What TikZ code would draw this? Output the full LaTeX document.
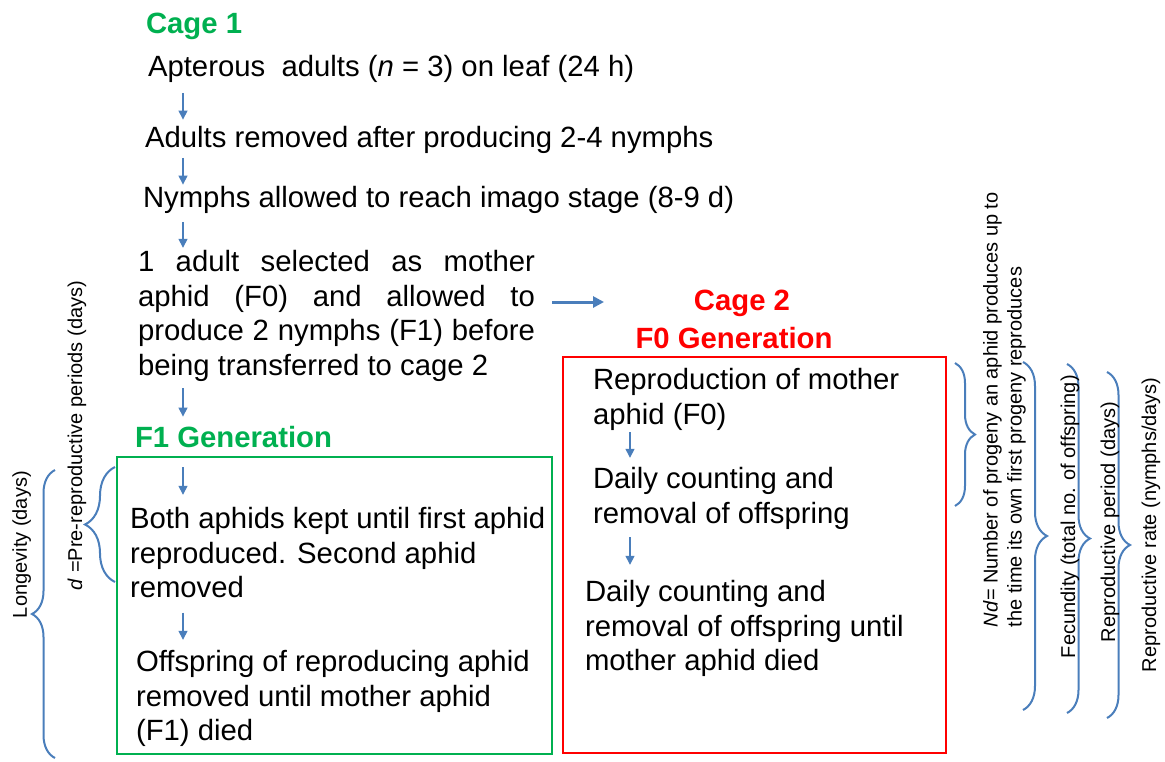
\documentclass[tikz,border=0pt]{standalone}
\usepackage{fontspec}
\setmainfont{Liberation Sans}
\usetikzlibrary{arrows.meta,decorations.pathreplacing}

\definecolor{cagegreen}{HTML}{00B050}
\definecolor{cagered}{HTML}{FF0000}
\definecolor{arrblue}{HTML}{4A7EBB}

\newcommand{\mainsize}{\fontsize{29.3}{34.8}\selectfont}
\newcommand{\sidesize}{\fontsize{20}{24}\selectfont}

\tikzset{
  maintxt/.style={font=\mainsize, inner sep=0pt, outer sep=0pt},
  headtxt/.style={maintxt, font=\mainsize\bfseries},
  sidetxt/.style={font=\sidesize, inner sep=0pt, outer sep=0pt, rotate=90},
  cagebox/.style={draw=#1, line width=2.5pt, inner sep=0pt, outer sep=0pt, anchor=north west},
  flowarr/.style={draw=arrblue, line width=1.4pt, -{Triangle[length=9pt,width=9pt]}},
  bigarr/.style={draw=arrblue, line width=3pt, -{Triangle[length=11pt,width=11pt]}},
  brc/.style={draw=arrblue, line width=2pt, decorate, decoration={brace, amplitude=#1}},
}

\begin{document}
\begin{tikzpicture}[x=1pt,y=1pt,yscale=-1]
\useasboundingbox (0,0) rectangle (1165,761);
\coordinate (ax) at (183,0);
\coordinate (bx) at (630,0);

% Cage 1 steps
\node[headtxt, text=cagegreen, anchor=base west] (cage1) at (146,33) {Cage 1};
\node[maintxt, anchor=base west] (apter) at (148,76) {Apterous\ \ adults (\textit{n} = 3) on leaf (24 h)};
\node[maintxt, anchor=base west] (adults) at (145,147) {Adults removed after producing 2-4 nymphs};
\node[maintxt, anchor=base west] (nymphs) at (143,207) {Nymphs allowed to reach imago stage (8-9 d)};
\node[maintxt, anchor=north west, align=left] (mother) at (138,250) {%
  \makebox[397pt][s]{1 adult selected as mother}\\
  \makebox[397pt][s]{aphid (F0) and allowed to}\\
  \makebox[397pt][s]{produce 2 nymphs (F1) before}\\
  being transferred to cage 2};

% F1 generation
\node[headtxt, text=cagegreen, anchor=base west] (f1gen) at (135,447) {F1 Generation};
\node[cagebox=cagegreen, minimum width=435pt, minimum height=297pt] (f1box) at (117,457) {};
\node[maintxt, anchor=north west, align=left] (both) at (130,507) {Both aphids kept until first aphid\\reproduced. Second aphid\\removed};
\node[maintxt, anchor=north west, align=left] (offs) at (136,650) {Offspring of reproducing aphid\\removed until mother aphid\\(F1) died};

% Cage 2 / F0 generation
\node[headtxt, text=cagered, anchor=base] (cage2) at (742,310) {Cage 2};
\node[headtxt, text=cagered, anchor=base] (f0gen) at (734,348) {F0 Generation};
\node[cagebox=cagered, minimum width=383pt, minimum height=396pt] (f0box) at (563,357) {};
\node[maintxt, anchor=north west, align=left] (repro) at (593,368) {Reproduction of mother\\aphid (F0)};
\node[maintxt, anchor=north west, align=left] (daily) at (593,467) {Daily counting and\\removal of offspring};
\node[maintxt, anchor=north west, align=left] (dailyend) at (585,580) {Daily counting and\\removal of offspring until\\mother aphid died};

% flow arrows
\draw[flowarr, shorten <=10.9pt, shorten >=6.2pt] (apter.south -| ax) -- (adults.north -| ax);
\draw[flowarr, shorten <=4.9pt, shorten >=1.2pt] (adults.south -| ax) -- (nymphs.north -| ax);
\draw[flowarr, shorten <=8.9pt, shorten >=2.2pt] (nymphs.south -| ax) -- (mother.north -| ax);
\draw[flowarr, shorten <=6.5pt, shorten >=9.2pt] (mother.south -| ax) -- (f1gen.north -| ax);
\draw[flowarr, shorten <=10pt, shorten >=12.2pt] (f1box.north -| ax) -- (both.north -| ax);
\draw[flowarr, shorten <=14.4pt, shorten >=10.2pt] (both.south -| ax) -- (offs.north -| ax);
\draw[flowarr, shorten <=2.1pt, shorten >=9.2pt] (repro.south -| bx) -- (daily.north -| bx);
\draw[flowarr, shorten <=8.1pt, shorten >=15.2pt] (daily.south -| bx) -- (dailyend.north -| bx);

% transfer to cage 2
\coordinate (tocage) at (604,302);
\draw[bigarr, shorten <=17pt] (mother.east |- tocage) -- (tocage);

% braces, right side
\draw[brc=20pt] (955,363) -- (955,506);
\draw[brc=24pt] (1023,362) -- (1023,710);
\draw[brc=23pt] (1067,364) -- (1067,713);
\draw[brc=23pt] (1107,372) -- (1107,718);
\node[sidetxt, anchor=north west, align=left] (ndtxt) at (983,627) {\textit{Nd}= Number of progeny an aphid produces up to\\the time its own first progeny reproduces};
\node[sidetxt, anchor=base west] (fectxt) at (1075,658) {Fecundity (total no. of offspring)};
\node[sidetxt, anchor=base west] (pertxt) at (1115,642) {Reproductive period (days)};
\node[sidetxt, anchor=base west] (ratetxt) at (1156,672) {Reproductive rate (nymphs/days)};

% braces, left side
\draw[brc=30pt] (115,582) -- (115,467);
\draw[brc=23pt] (55,758) -- (55,470);
\node[sidetxt, anchor=base west] (dtxt) at (82,590) {\textit{d} =Pre-reproductive periods (days)};
\node[sidetxt, anchor=base west] (longtxt) at (27,618) {Longevity (days)};
\end{tikzpicture}
\end{document}
